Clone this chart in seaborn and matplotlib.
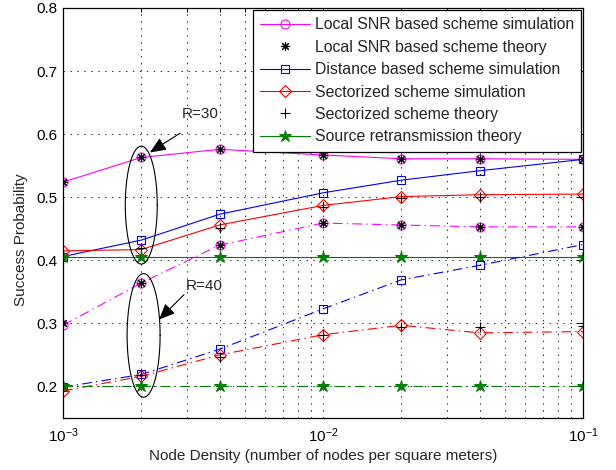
import numpy as np
import pandas as pd
import matplotlib
matplotlib.use("Agg")
import matplotlib.pyplot as plt
import seaborn as sns
from matplotlib.ticker import LogLocator, FixedLocator, FormatStrFormatter, NullFormatter

# ---------------- data ----------------
density = [0.001, 0.002, 0.004, 0.01, 0.02, 0.04, 0.1]

snr_sim_r30 = [0.524, 0.563, 0.576, 0.567, 0.561, 0.561, 0.560]
snr_theory_r30 = [0.524, 0.563, 0.576, 0.567, 0.561, 0.561, 0.560]
dist_sim_r30 = [0.406, 0.432, 0.473, 0.507, 0.527, 0.542, 0.560]
sect_sim_r30 = [0.415, 0.417, 0.456, 0.487, 0.501, 0.504, 0.505]
sect_theory_r30 = [0.409, 0.420, 0.452, 0.484, 0.498, 0.500, 0.500]
src_theory_r30 = [0.406, 0.406, 0.406, 0.406, 0.406, 0.406, 0.406]

snr_sim_r40 = [0.297, 0.364, 0.424, 0.459, 0.456, 0.453, 0.453]
snr_theory_r40 = [0.300, 0.364, 0.424, 0.459, 0.456, 0.453, 0.453]
dist_sim_r40 = [0.199, 0.219, 0.259, 0.323, 0.369, 0.392, 0.425]
sect_sim_r40 = [0.193, 0.216, 0.250, 0.282, 0.297, 0.285, 0.287]
sect_theory_r40 = [0.200, 0.218, 0.247, 0.281, 0.294, 0.294, 0.296]
src_theory_r40 = [0.201, 0.201, 0.201, 0.201, 0.201, 0.201, 0.201]

labels = ["Local SNR based scheme simulation",
          "Local SNR based scheme theory",
          "Distance based scheme simulation",
          "Sectorized scheme simulation",
          "Sectorized scheme theory",
          "Source retransmission theory"]

x_ticks = [1e-3, 1e-2, 1e-1]
y_ticks = [0.2, 0.3, 0.4, 0.5, 0.6, 0.7, 0.8]

# ---------------- style ----------------
sns.set_style("white")
plt.rcParams["font.family"] = ["Liberation Sans", "DejaVu Sans"]
plt.rcParams["mathtext.fontset"] = "custom"
plt.rcParams["mathtext.rm"] = "Liberation Sans"
plt.rcParams["mathtext.it"] = "Liberation Sans:italic"
plt.rcParams["mathtext.bf"] = "Liberation Sans:bold"
plt.rcParams["font.size"] = 11
plt.rcParams["lines.scale_dashes"] = False

fig = plt.figure(figsize=(6.16, 4.70), dpi=100)
ax = fig.add_axes([63 / 616, 1 - 418 / 470, 520 / 616, 410 / 470])

MAG, BLU, RED, GRN, BLK = "#ff00ff", "#0000ff", "#ff0000", "#008000", "#000000"
DASHDOT = (0, (7, 3, 1, 3))

series_specs = [
    # (key, color, marker, markersize, filled, has_line)
    ("snr_sim", MAG, "o", 6.5, False, True),
    ("snr_theory", BLK, (8, 2, 0), 6.5, False, False),
    ("dist_sim", BLU, "s", 5.5, False, True),
    ("sect_sim", RED, "D", 5.8, False, True),
    ("sect_theory", BLK, "+", 7.5, False, False),
    ("src_theory", GRN, "*", 9, True, True),
]
data_r30 = {"snr_sim": snr_sim_r30, "snr_theory": snr_theory_r30, "dist_sim": dist_sim_r30,
            "sect_sim": sect_sim_r30, "sect_theory": sect_theory_r30, "src_theory": src_theory_r30}
data_r40 = {"snr_sim": snr_sim_r40, "snr_theory": snr_theory_r40, "dist_sim": dist_sim_r40,
            "sect_sim": sect_sim_r40, "sect_theory": sect_theory_r40, "src_theory": src_theory_r40}

handles = []
for data, ls, keep in [(data_r30, "-", True), (data_r40, DASHDOT, False)]:
    for key, color, marker, ms, filled, has_line in series_specs:
        df = pd.DataFrame({"density": density, "p": data[key]})
        kw = dict(color=color, marker=marker, markersize=ms,
                  markeredgecolor=color, markeredgewidth=0.8,
                  markerfacecolor=(color if filled else "none"),
                  linewidth=0.8, linestyle=(ls if has_line else "none"))
        sns.lineplot(data=df, x="density", y="p", ax=ax, errorbar=None,
                     sort=False, estimator=None, **kw)
        if keep:
            handles.append(ax.lines[-1])

ax.set_xscale("log")
ax.set_xlim(1e-3, 1e-1)
ax.set_ylim(0.15, 0.8)
ax.xaxis.set_major_locator(FixedLocator(x_ticks))
ax.xaxis.set_minor_locator(LogLocator(base=10, subs=np.arange(2, 10)))
ax.xaxis.set_minor_formatter(NullFormatter())
ax.yaxis.set_major_locator(FixedLocator(y_ticks))
ax.yaxis.set_major_formatter(FormatStrFormatter("%.1f"))

ax.grid(True, which="major", axis="both", color="black", linestyle=(0, (1, 4)), linewidth=0.6)
ax.grid(True, which="minor", axis="x", color="black", linestyle=(0, (1, 4)), linewidth=0.6)
for s in ax.spines.values():
    s.set_visible(True)
    s.set_color("black")
    s.set_linewidth(0.9)
ax.tick_params(which="both", direction="in", top=True, right=True, colors="black",
               labelsize=11, width=0.7)
ax.tick_params(which="major", length=5)
ax.tick_params(which="minor", length=3)
ax.tick_params(axis="x", pad=6)
ax.tick_params(axis="y", pad=4)

ax.set_xlabel("Node Density (number of nodes per square meters)", fontsize=11, labelpad=3)
ax.set_ylabel("Success Probability", fontsize=11)
ax.yaxis.set_label_coords(-0.068, 0.434)

# ellipses (annotation shapes) around the 0.002 column
t = np.linspace(0, 2 * np.pi, 200)
for cx_log, hw, cy, hh in [(np.log10(0.002), 0.0615, 0.4875, 0.0935),
                           (-2.690, 0.0635, 0.281, 0.098)]:
    ax.plot(10 ** (cx_log + hw * np.cos(t)), cy + hh * np.sin(t), color="black", lw=0.8)

arrow = dict(arrowstyle="-|>,head_length=0.7,head_width=0.3", mutation_scale=14,
             color="black", lw=0.8, shrinkA=0, shrinkB=0)
ax.annotate("", xy=(0.00216, 0.571), xytext=(0.00282, 0.6016), arrowprops=arrow)
ax.text(0.00336, 0.632, "R=30", ha="center", va="center", fontsize=11)
ax.annotate("", xy=(0.00234, 0.306), xytext=(0.00292, 0.3456), arrowprops=arrow)
ax.text(0.00348, 0.360, "R=40", ha="center", va="center", fontsize=11)

leg = ax.legend(handles, labels, loc="upper right", bbox_to_anchor=(1.0, 1.0),
                borderaxespad=0.13, fontsize=11.4, handlelength=3.1, handletextpad=0.32,
                labelspacing=0.47, borderpad=0.45, fancybox=False, framealpha=1,
                edgecolor="black")
leg.get_frame().set_linewidth(0.9)

fig.savefig("out.png", dpi=100)
